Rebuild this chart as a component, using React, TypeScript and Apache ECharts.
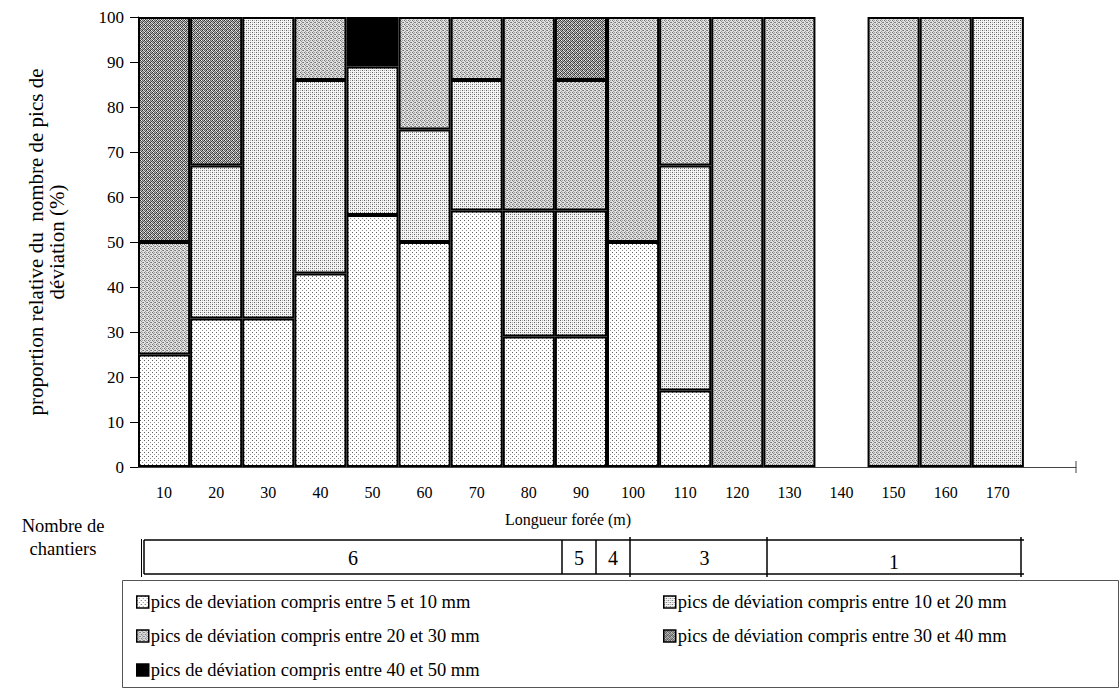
import React, { useEffect, useRef } from "react";
import * as echarts from "echarts";

const categories = ["10", "20", "30", "40", "50", "60", "70", "80", "90", "100", "110", "120", "130", "140", "150", "160", "170", ""];

const seriesNames = [
  "pics de deviation compris entre 5 et 10 mm",
  "pics de déviation compris entre 10 et 20 mm",
  "pics de déviation compris entre 20 et 30 mm",
  "pics de déviation compris entre 30 et 40 mm",
  "pics de déviation compris entre 40 et 50 mm",
];

const dev5to10 = [25, 33, 33, 43, 56, 50, 57, 29, 29, 50, 17, 0, 0, 0, 0, 0, 0, 0];
const dev10to20 = [0, 34, 67, 43, 33, 25, 29, 28, 28, 0, 50, 0, 0, 0, 0, 0, 100, 0];
const dev20to30 = [25, 0, 0, 14, 0, 25, 14, 43, 29, 50, 33, 100, 100, 0, 100, 100, 0, 0];
const dev30to40 = [50, 33, 0, 0, 0, 0, 0, 0, 14, 0, 0, 0, 0, 0, 0, 0, 0, 0];
const dev40to50 = [0, 0, 0, 0, 11, 0, 0, 0, 0, 0, 0, 0, 0, 0, 0, 0, 0, 0];

const chantierLabels = ["6", "5", "4", "3", "1"];

const yTitle = "proportion relative du  nombre de pics de\ndéviation (%)";
const xTitle = "Longueur forée (m)";

const FONT = "Liberation Serif";

type Dot = [number, number, string];

function makePattern(w: number, h: number, bg: string, dots: Dot[]) {
  const c = document.createElement("canvas");
  c.width = w;
  c.height = h;
  const ctx = c.getContext("2d")!;
  ctx.fillStyle = bg;
  ctx.fillRect(0, 0, w, h);
  for (const [x, y, col] of dots) {
    ctx.fillStyle = col;
    ctx.fillRect(x, y, 1, 1);
  }
  return { image: c, repeat: "repeat", imageWidth: w, imageHeight: h } as any;
}

export default function App() {
  const ref = useRef<HTMLDivElement>(null);

  useEffect(() => {
    if (!ref.current) return;
    const chart = echarts.init(ref.current, undefined, { renderer: "svg" });

    const p1 = makePattern(4, 4, "#ffffff", [
      [0, 0, "#606060"],
      [2, 2, "#909090"],
    ]);
    const p2 = makePattern(4, 4, "#f4f4f4", [
      [0, 0, "#606060"],
      [2, 2, "#606060"],
      [2, 0, "#b0b0b0"],
      [0, 2, "#b0b0b0"],
    ]);
    const p3 = makePattern(4, 4, "#e0e0e0", [
      [0, 0, "#707070"],
      [2, 0, "#a0a0a0"],
      [1, 1, "#909090"],
      [3, 2, "#707070"],
      [1, 3, "#a0a0a0"],
      [2, 2, "#909090"],
    ]);
    const p4 = makePattern(4, 4, "#b8b8b8", [
      [0, 0, "#303030"],
      [2, 0, "#606060"],
      [1, 1, "#505050"],
      [3, 1, "#404040"],
      [0, 2, "#606060"],
      [2, 2, "#303030"],
      [1, 3, "#404040"],
      [3, 3, "#707070"],
      [1, 0, "#f0f0f0"],
      [3, 2, "#e8e8e8"],
      [0, 3, "#e0e0e0"],
    ]);
    const fills = [p1, p2, p3, p4, "#000000"];
    const values = [dev5to10, dev10to20, dev20to30, dev30to40, dev40to50];

    const series = values.map((arr, i) => ({
      name: seriesNames[i],
      type: "bar",
      stack: "total",
      barCategoryGap: "0%",
      data: arr.map((v) => (v === 0 ? "-" : v)),
      itemStyle: { color: fills[i], borderColor: "#000", borderWidth: 2 },
      emphasis: { disabled: true },
    }));

    const tableTop = 540;
    const tableBottom = 574;
    const dividers = [144, 562, 596, 630, 767, 1021];
    const tableEls: any[] = [];
    tableEls.push({ type: "line", shape: { x1: 144, y1: tableTop, x2: 1024, y2: tableTop }, style: { stroke: "#000", lineWidth: 1.5 } });
    tableEls.push({ type: "line", shape: { x1: 144, y1: tableBottom, x2: 1024, y2: tableBottom }, style: { stroke: "#000", lineWidth: 1.5 } });
    tableEls.push({ type: "line", shape: { x1: 141.5, y1: tableTop - 1, x2: 141.5, y2: tableBottom + 3 }, style: { stroke: "#000", lineWidth: 1 } });
    dividers.forEach((x, i) => {
      const ext = i >= 3 ? 3 : 0;
      tableEls.push({ type: "line", shape: { x1: x, y1: tableTop - ext, x2: x, y2: tableBottom + ext }, style: { stroke: "#000", lineWidth: 1.5 } });
    });
    chantierLabels.forEach((t, i) => {
      const cx = (dividers[i] + dividers[i + 1]) / 2 + (i === 3 ? 6 : 0);
      tableEls.push({
        type: "text",
        x: cx,
        y: i === 4 ? 562 : 558,
        style: { text: t, fontSize: 20, fontFamily: FONT, fill: "#000", align: "center", verticalAlign: "middle" },
      });
    });

    chart.setOption({
      animation: false,
      backgroundColor: "#fff",
      textStyle: { fontFamily: FONT },
      grid: { left: 138, right: 43, top: 17, bottom: 224, containLabel: false },
      xAxis: {
        type: "category",
        data: categories,
        axisLine: { lineStyle: { color: "#444", width: 1 } },
        axisTick: { length: 6, lineStyle: { color: "#444" } },
        axisLabel: { interval: 0, fontSize: 16, fontFamily: FONT, color: "#000", margin: 17 },
        splitLine: { show: false },
      },
      yAxis: {
        type: "value",
        min: 0,
        max: 100,
        interval: 10,
        name: yTitle,
        nameLocation: "middle",
        nameRotate: 90,
        nameGap: 71,
        nameTextStyle: { fontSize: 21, fontFamily: FONT, color: "#000", lineHeight: 21 },
        axisLine: { show: true, lineStyle: { color: "#000", width: 1 } },
        axisTick: { show: true, length: 8, lineStyle: { color: "#000" } },
        axisLabel: { fontSize: 17, fontFamily: FONT, color: "#000", margin: 14 },
        splitLine: { show: false },
      },
      legend: [
        {
          data: [seriesNames[0], seriesNames[2], seriesNames[4]],
          orient: "vertical",
          left: 136,
          top: 592,
          padding: 0,
          itemWidth: 12,
          itemHeight: 12,
          itemGap: 14,
          icon: "rect",
          selectedMode: false,
          itemStyle: { borderColor: "#000", borderWidth: 1.5 },
          textStyle: { fontSize: 18.5, fontFamily: FONT, color: "#000", lineHeight: 20, padding: [0, 0, 0, -3] },
        },
        {
          data: [seriesNames[1], seriesNames[3]],
          orient: "vertical",
          left: 663,
          top: 592,
          padding: 0,
          itemWidth: 12,
          itemHeight: 12,
          itemGap: 14,
          icon: "rect",
          selectedMode: false,
          itemStyle: { borderColor: "#000", borderWidth: 1.5 },
          textStyle: { fontSize: 18.5, fontFamily: FONT, color: "#000", lineHeight: 20, padding: [0, 0, 0, -3] },
        },
      ],
      graphic: [
        {
          type: "rect",
          shape: { x: 122.5, y: 580.5, width: 996, height: 107 },
          style: { fill: "none", stroke: "#555", lineWidth: 1 },
          z: -1,
        },
        {
          type: "text",
          x: 568,
          y: 519,
          style: { text: xTitle, fontSize: 16, fontFamily: FONT, fill: "#000", align: "center", verticalAlign: "middle" },
        },
        {
          type: "text",
          x: 63,
          y: 526,
          style: { text: "Nombre de", fontSize: 18.5, fontFamily: FONT, fill: "#000", align: "center", verticalAlign: "middle" },
        },
        {
          type: "text",
          x: 63,
          y: 549,
          style: { text: "chantiers", fontSize: 18.5, fontFamily: FONT, fill: "#000", align: "center", verticalAlign: "middle" },
        },
        {
          type: "line",
          shape: { x1: 1076, y1: 461, x2: 1076, y2: 473 },
          style: { stroke: "#444", lineWidth: 1 },
        },
        ...tableEls,
      ],
      series,
    });

    return () => chart.dispose();
  }, []);

  return (
    <div style={{ position: "fixed", left: 0, top: 0, width: 1119, height: 691, background: "#fff" }}>
      <div ref={ref} style={{ width: 1119, height: 691 }} />
    </div>
  );
}
